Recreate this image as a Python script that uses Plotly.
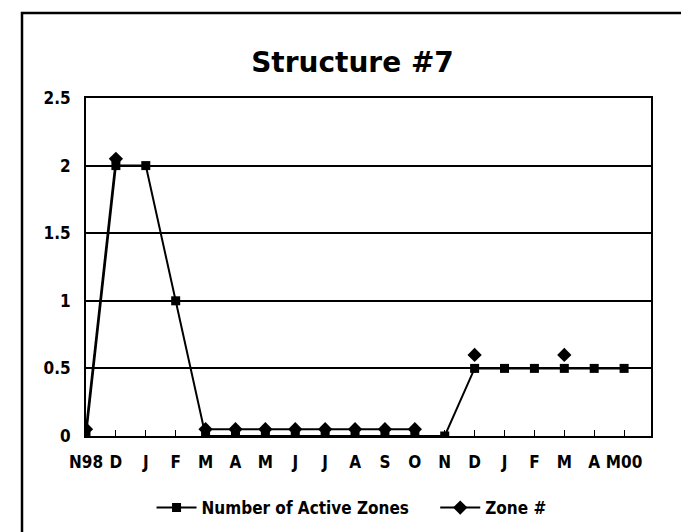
import plotly.graph_objects as go

categories = ["N98", "D", "J", "F", "M", "A", "M", "J", "J", "A", "S", "O",
              "N", "D", "J", "F", "M", "A", "M00"]
active_zones = [0, 2, 2, 1, 0, 0, 0, 0, 0, 0, 0, 0, 0, 0.5, 0.5, 0.5, 0.5, 0.5, 0.5]
zone_num = [0.05, 2.05, None, None, 0.05, 0.05, 0.05, 0.05, 0.05, 0.05, 0.05, 0.05,
            None, 0.6, None, None, 0.6, None, None]
y_ticks = [0, 0.5, 1, 1.5, 2, 2.5]
y_tick_labels = ["0", "0.5", "1", "1.5", "2", "2.5"]

xi = list(range(len(categories)))
cond = "DejaVu Sans Condensed, DejaVu Sans, sans-serif"

fig = go.Figure()
fig.add_trace(go.Scatter(
    x=xi, y=active_zones, name="Number of Active Zones    ", mode="lines+markers",
    line=dict(color="black", width=2),
    marker=dict(symbol="square", size=9, color="black"),
))
fig.add_trace(go.Scatter(
    x=xi, y=zone_num, name="Zone #", mode="lines+markers",
    line=dict(color="black", width=2), connectgaps=False,
    marker=dict(symbol="diamond", size=11, color="black"),
))

fig.update_layout(
    width=689, height=532,
    margin=dict(l=78, r=46, t=90, b=104),
    paper_bgcolor="white", plot_bgcolor="white",
    showlegend=True,
    legend=dict(orientation="h", x=0.47, xanchor="center", y=(428 - 500) / 338,
                yanchor="middle",
                font=dict(family=cond, size=17, color="black", weight="bold"),
                itemwidth=40, tracegroupgap=0),
    title=dict(text="<b>Structure #7</b>", x=0.5, xanchor="center",
               y=1 - 54 / 532, yanchor="middle", yref="container",
               font=dict(family="DejaVu Sans, sans-serif", size=28, color="black")),
    font=dict(family=cond, color="black"),
)
fig.update_xaxes(
    range=[0, 18.9], tickmode="array", tickvals=xi, ticktext=categories,
    showgrid=False, showline=True, linecolor="black", linewidth=2, mirror=True,
    ticks="inside", ticklen=6, tickcolor="black", tickwidth=1,
    tickfont=dict(family=cond, size=17, color="black", weight="bold"),
    zeroline=False, ticklabelstandoff=10,
)
fig.update_yaxes(
    range=[0, 2.5], tickmode="array", tickvals=y_ticks, ticktext=y_tick_labels,
    showgrid=True, gridcolor="black", gridwidth=1.5,
    showline=True, linecolor="black", linewidth=2, mirror=True,
    ticks="", tickfont=dict(family=cond, size=17, color="black", weight="bold"),
    zeroline=False, ticklabelstandoff=10,
)
fig.add_shape(type="rect", xref="paper", yref="paper",
              x0=(14 - 78) / 565, x1=1.2, y0=-0.4, y1=(428 - 5) / 338,
              line=dict(color="black", width=2.5), layer="below")
fig.write_html("out.html")
